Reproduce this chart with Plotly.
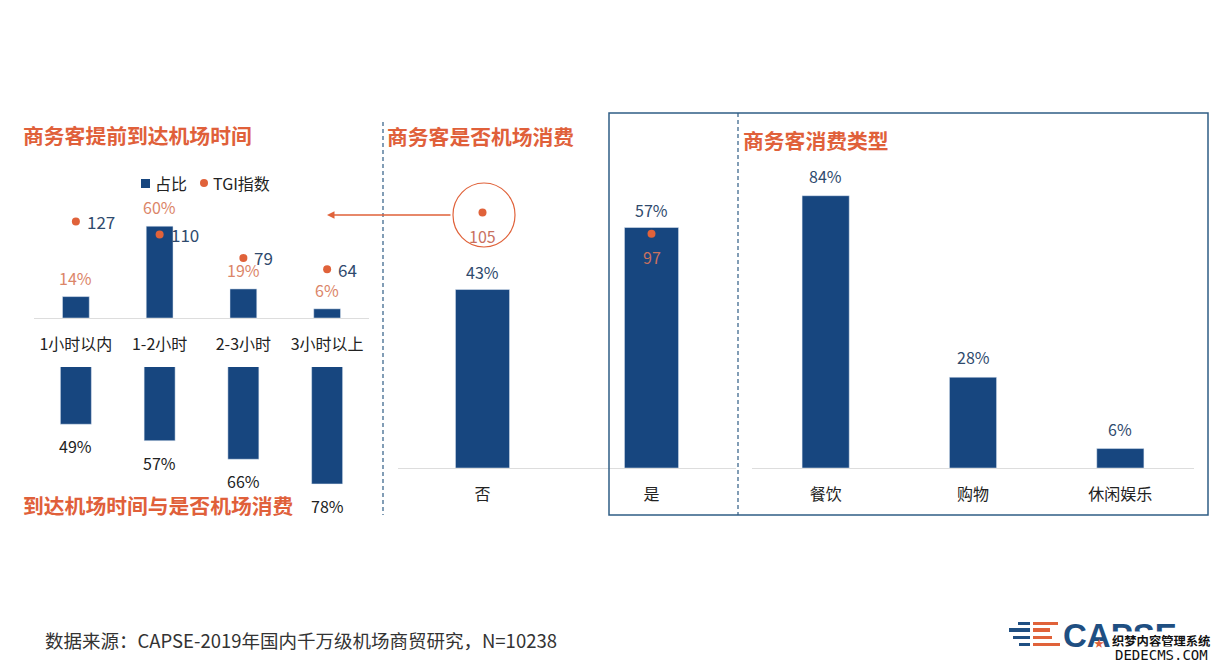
"""Business travellers at airports: arrival time and consumption panels."""

import plotly.graph_objects as go

W, H = 1220, 669
FONT = "Noto Sans CJK SC"
BAR_BLUE = "#17467F"
DOT_ORANGE = "#E0623A"
TITLE_ORANGE = "#E0603A"
LABEL_ORANGE = "#DB8568"
LABEL_BLUE = "#2F4A6D"
FRAME_BLUE = "#2F5D85"
AXIS_GREY = "#DDDDDD"

# Left panel, upper: how early business travellers arrive
arrival_cats = ["1小时以内", "1-2小时", "2-3小时", "3小时以上"]
arrival_share = [14, 60, 19, 6]
arrival_tgi = [127, 110, 79, 64]
# Left panel, lower: consumption rate by arrival time
arrival_consume = [49, 57, 66, 78]

# Middle panel: consumes at the airport or not (bars read a little off the rounded labels)
consume_cats = ["否", "是"]
consume_share = [42.6, 57.4]
consume_tgi = [105, 97]

# Right panel: consumption types
type_cats = ["餐饮", "购物", "休闲娱乐"]
type_share = [84, 28, 6]

# Logo stripes: (left, right, top, bottom) in pixels
logo_blue = [(1018, 1030, 622, 625), (1009, 1030, 628, 632), (1013, 1030, 636, 639), (1019, 1030, 643, 646)]
logo_orange = [(1033, 1058, 622, 625), (1033, 1050, 628, 632), (1033, 1052, 636, 639), (1033, 1060, 643, 646)]


def px(x):
    return x / W


def py(y):
    return 1 - y / H


def paper_text(x, y, text, size, color, anchor="left", **kwargs):
    return dict(
        xref="paper", yref="paper", x=px(x), y=py(y), text=text, showarrow=False,
        xanchor=anchor, yanchor="middle", font=dict(family=FONT, size=size, color=color), **kwargs,
    )


def value_labels(xaxis, yaxis, cats, values, texts, color, yshift, xshift=0, anchor="center", size=16):
    return [
        dict(
            xref=xaxis, yref=yaxis, x=c, y=v, text=t, showarrow=False, yshift=yshift, xshift=xshift,
            xanchor=anchor, yanchor="middle", font=dict(family=FONT, size=size, color=color),
        )
        for c, v, t in zip(cats, values, texts)
    ]


def pct(values):
    return [f"{v:.0f}%" for v in values]


def rect(x0, x1, y0, y1, **kwargs):
    return dict(type="rect", xref="paper", yref="paper", x0=px(x0), x1=px(x1), y0=py(y1), y1=py(y0), **kwargs)


def vline(x, y0, y1):
    return dict(
        type="line", xref="paper", yref="paper", x0=px(x), x1=px(x), y0=py(y0), y1=py(y1),
        line=dict(color=FRAME_BLUE, width=1.2, dash="4px,3px"),
    )


fig = go.Figure()

fig.add_trace(go.Bar(x=arrival_cats, y=arrival_share, name="占比", marker_color=BAR_BLUE, xaxis="x", yaxis="y"))
fig.add_trace(
    go.Scatter(
        x=arrival_cats, y=arrival_tgi, name="TGI指数", mode="markers",
        marker=dict(color=DOT_ORANGE, size=8), xaxis="x", yaxis="y2",
    )
)
# Lower bars are wider than the upper ones in the original
fig.add_trace(go.Bar(x=arrival_cats, y=arrival_consume, width=0.37, marker_color=BAR_BLUE, xaxis="x2", yaxis="y3"))
fig.add_trace(go.Bar(x=consume_cats, y=consume_share, marker_color=BAR_BLUE, xaxis="x3", yaxis="y4"))
fig.add_trace(
    go.Scatter(
        x=consume_cats, y=consume_tgi, mode="markers", marker=dict(color=DOT_ORANGE, size=8),
        xaxis="x3", yaxis="y5",
    )
)
fig.add_trace(go.Bar(x=type_cats, y=type_share, marker_color=BAR_BLUE, xaxis="x4", yaxis="y6"))

annotations = []
annotations += value_labels("x", "y", arrival_cats, arrival_share, pct(arrival_share), LABEL_ORANGE, 19)
annotations += value_labels(
    "x", "y2", arrival_cats, arrival_tgi, [str(v) for v in arrival_tgi], LABEL_BLUE, 0, xshift=9, anchor="left", size=17
)
annotations += value_labels("x2", "y3", arrival_cats, arrival_consume, pct(arrival_consume), "#222222", -22)
annotations += value_labels("x3", "y4", consume_cats, consume_share, pct(consume_share), LABEL_BLUE, 18)
annotations += value_labels("x3", "y5", consume_cats, consume_tgi, [str(v) for v in consume_tgi], "#C9715F", -23)
annotations += value_labels("x4", "y6", type_cats, type_share, pct(type_share), LABEL_BLUE, 20)

annotations += [
    paper_text(21, 135, "<b>商务客提前到达机场时间</b>", 20.8, TITLE_ORANGE),
    paper_text(385, 136, "<b>商务客是否机场消费</b>", 20.8, TITLE_ORANGE),
    paper_text(741, 140, "<b>商务客消费类型</b>", 20.8, TITLE_ORANGE),
    paper_text(21, 505, "<b>到达机场时间与是否机场消费</b>", 20.8, TITLE_ORANGE),
    paper_text(43, 640, "数据来源：CAPSE-2019年国内千万级机场商贸研究，N=10238", 18.5, "#333333"),
    # Legend text, keys are drawn as shapes below because the built-in legend spaces them too wide
    paper_text(153, 183, "占比", 16, "#222222"),
    paper_text(211, 183, "TGI指数", 16, "#222222"),
    # Logo word, then the watermark sitting over it
    dict(
        xref="paper", yref="paper", x=px(1061), y=py(635), text="<b>CAPSE</b>", showarrow=False, xanchor="left",
        yanchor="middle", font=dict(family="Liberation Sans", size=33, color="#1F4F82"),
    ),
    paper_text(1099, 642, "★", 10, DOT_ORANGE, anchor="center"),
    paper_text(1161, 641, "<b>织梦内容管理系统</b>", 12.3, "#111111", anchor="center", bgcolor="white", borderpad=0),
    dict(
        xref="paper", yref="paper", x=px(1161), y=py(655), text="DEDECMS.COM", showarrow=False, xanchor="center",
        yanchor="middle", bgcolor="white", borderpad=0, font=dict(family="DejaVu Sans Mono", size=14, color="#111111"),
    ),
    # Arrow from the circled TGI back to the left panel
    dict(
        xref="paper", yref="paper", x=px(327), y=py(215), ax=125, ay=0, text="", showarrow=True,
        arrowhead=2, arrowsize=1, arrowwidth=1.5, arrowcolor=DOT_ORANGE,
    ),
]

shapes = [
    rect(609, 1208, 113, 515, line=dict(color=FRAME_BLUE, width=1.5)),
    vline(383, 122, 515),
    vline(738, 113, 515),
    dict(
        type="circle", xref="paper", yref="paper", x0=px(453), x1=px(515), y0=py(247), y1=py(183),
        line=dict(color=DOT_ORANGE, width=1.2),
    ),
    # Legend keys
    rect(141, 150, 179, 188, fillcolor=BAR_BLUE, line_width=0),
    dict(
        type="circle", xref="paper", yref="paper", x0=px(200), x1=px(208), y0=py(187), y1=py(179),
        fillcolor=DOT_ORANGE, line_width=0,
    ),
]
for x0, x1, y0, y1 in logo_blue:
    shapes.append(rect(x0, x1, y0, y1, fillcolor="#1F4F82", line_width=0))
for x0, x1, y0, y1 in logo_orange:
    shapes.append(rect(x0, x1, y0, y1, fillcolor=DOT_ORANGE, line_width=0))


def cat_axis(x0, x1, anchor, n, show=True):
    axis = dict(
        domain=[px(x0), px(x1)], anchor=anchor, type="category", range=[-0.5, n - 0.5], fixedrange=True,
        showgrid=False, zeroline=False,
    )
    if show:
        axis.update(
            showline=True, linecolor=AXIS_GREY, linewidth=1, ticks="outside", ticklen=12,
            tickcolor="rgba(0,0,0,0)", tickfont=dict(family=FONT, size=16, color="#222222"),
        )
    else:
        axis.update(visible=False)
    return axis


def val_axis(top, bottom, rng, **kwargs):
    return dict(domain=[py(bottom), py(top)], range=rng, visible=False, fixedrange=True, **kwargs)


fig.update_layout(
    width=W,
    height=H,
    margin=dict(l=0, r=0, t=0, b=0),
    paper_bgcolor="white",
    plot_bgcolor="rgba(0,0,0,0)",
    bargap=0.68,
    showlegend=False,
    font=dict(family=FONT, size=16, color="#222222"),
    xaxis=cat_axis(34, 369, "y", 4),
    yaxis=val_axis(190, 318, [0, 83.66]),
    yaxis2=val_axis(190, 318, [0, 168.4], overlaying="y", anchor="x"),
    xaxis2=cat_axis(34, 369, "y3", 4, show=False),
    yaxis3=val_axis(367, 500, [85.8, 21.2], anchor="x2"),
    xaxis3=cat_axis(398, 736, "y4", 2),
    yaxis4=val_axis(150, 468, [0, 75.9], anchor="x3"),
    yaxis5=val_axis(150, 468, [9, 128.5], overlaying="y4", anchor="x3"),
    xaxis4=cat_axis(752, 1194, "y6", 3),
    yaxis6=val_axis(150, 468, [0, 98.1], anchor="x4"),
    annotations=annotations,
    shapes=shapes,
)

fig.write_html("out.html", config={"displayModeBar": False}, post_script="document.body.style.margin='0';")
